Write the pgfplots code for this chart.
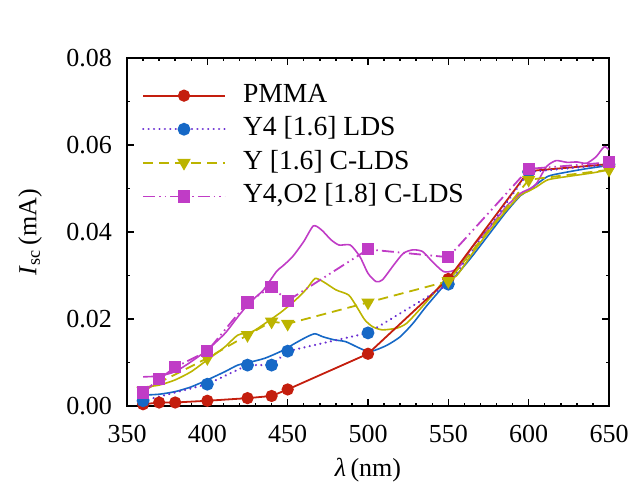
\documentclass[border=0pt]{standalone}
\usepackage{fontspec}
\setmainfont{Liberation Serif}
\usepackage{pgfplots}
\pgfplotsset{compat=1.18}

\definecolor{cRed}{HTML}{C41E0E}
\definecolor{cBlue}{HTML}{1668C6}
\definecolor{cPurple}{HTML}{6A2FD2}
\definecolor{cYellow}{HTML}{BCB400}
\definecolor{cMag}{HTML}{C03CC6}

\begin{document}
\begin{tikzpicture}
\begin{axis}[
  name=ax, at={(0,0)}, anchor=south west,
  scale only axis, width=241bp, height=174bp,
  xmin=350, xmax=650, ymin=0, ymax=0.08,
  xtick={350,400,450,500,550,600,650},
  ytick={0,0.02,0.04,0.06,0.08},
  minor x tick num=4, minor y tick num=1,
  major tick length=3.3bp, minor tick length=1.7bp,
  axis line style={line width=1bp},
  every tick/.style={black, line width=0.7bp},
  tick label style={font=\fontsize{13bp}{15bp}\selectfont},
  /pgf/number format/assume math mode=true,
  scaled y ticks=false,
  yticklabel style={/pgf/number format/fixed, /pgf/number format/fixed zerofill, /pgf/number format/precision=2, xshift=-4bp},
  xticklabel style={yshift=-6bp},
  label style={font=\fontsize{13bp}{15bp}\selectfont},
  xlabel={{\itshape λ}\,(nm)},
  ylabel={\textit{I}\textsubscript{sc}\,(mA)},
  xlabel style={at={(axis description cs:0.5,-0.184)}, anchor=center},
  ylabel style={at={(axis description cs:-0.201,0.5)}, anchor=center},
  legend cell align=left,
  legend style={draw=none, fill=none, at={(axis description cs:0.0303,0.926)}, anchor=north west,
    font=\fontsize{13.8bp}{16bp}\selectfont, row sep=5.3bp, column sep=8.5bp, inner sep=0pt,
    nodes={inner sep=0pt, text height=9bp, text depth=2.5bp}},
  legend image code/.code={\draw[mark repeat=2,mark phase=2,#1] plot coordinates {(0bp,0bp) (20.4bp,0bp) (40.8bp,0bp)};},
]
% spectrally resolved curves
\addplot[cBlue, line width=0.8bp, smooth, tension=0.4, forget plot] coordinates {
(360,0.0025) (370,0.0027) (380,0.0033) (390,0.0044) (400,0.0060) (411,0.0079)
(419,0.0094) (428,0.0102) (436,0.0110) (446,0.0126) (455,0.0145) (462,0.0159)
(467,0.0166) (472,0.0159) (479,0.0152) (486,0.0148) (493,0.0136) (500,0.0125)
(505,0.0129) (512,0.0140) (520,0.0159) (528,0.0190) (536,0.0228) (545,0.0267)
(549,0.0286) (555,0.0301) (565,0.0345) (576,0.0398) (586,0.0446) (595,0.0484)
(600,0.0495) (605,0.0510) (612,0.0528) (620,0.0535) (635,0.0545) (650,0.0553)};
\addplot[cYellow, line width=0.8bp, smooth, tension=0.4, forget plot] coordinates {
(360,0.0043) (370,0.0048) (380,0.0060) (390,0.0079) (400,0.0106) (411,0.0136)
(419,0.0163) (428,0.0171) (436,0.0190) (446,0.0216) (455,0.0244) (462,0.0270)
(467,0.0293) (472,0.0286) (480,0.0267) (488,0.0255) (493,0.0228) (498,0.0198)
(503,0.0182) (509,0.0175) (518,0.0179) (524,0.0190) (532,0.0221) (541,0.0259)
(547,0.0286) (555,0.0299) (565,0.0351) (576,0.0405) (586,0.0450) (595,0.0485)
(600,0.0494) (605,0.0504) (612,0.0520) (625,0.0528) (640,0.0536) (650,0.0543)};
\addplot[cMag, line width=0.8bp, smooth, tension=0.4, forget plot] coordinates {
(360,0.0067) (370,0.0069) (380,0.0079) (390,0.0102) (400,0.0129) (411,0.0167)
(419,0.0205) (425,0.0232) (430,0.0250) (435,0.0267) (443,0.0309) (447,0.0322)
(453,0.0343) (460,0.0378) (466,0.0414) (471,0.0405) (477,0.0382) (482,0.0370)
(489,0.0370) (495,0.0343) (500,0.0305) (505,0.0286) (509,0.0290) (516,0.0324)
(522,0.0351) (528,0.0359) (534,0.0355) (540,0.0332) (547,0.0309) (553,0.0311)
(558,0.0325) (565,0.0366) (576,0.0412) (586,0.0458) (595,0.0489) (601,0.0500)
(605,0.0512) (611,0.0550) (617,0.0564) (624,0.0560) (630,0.0561) (636,0.0558)
(642,0.0573) (647,0.0596) (650,0.0589)};
% measured points
\addplot[cRed, line width=0.9bp, mark=*, mark size=2.6bp, mark options={solid, fill=cRed, draw=cRed}] coordinates {
(360,0.0004) (370,0.0008) (380,0.0008) (400,0.0012) (425,0.0018) (440,0.0023)
(450,0.0038) (500,0.0120) (550,0.0292) (600,0.0540) (650,0.0556)};
\addlegendentry{PMMA}
\addplot[cPurple, line width=1.2bp, line cap=round, dash pattern=on 0.01bp off 2.7bp, mark=*, mark size=2.6bp, mark options={solid, fill=cBlue, draw=cBlue}] coordinates {
(360,0.0012) (400,0.0050) (425,0.0094) (440,0.0094) (450,0.0126) (500,0.0168)
(550,0.0280) (600,0.0538) (650,0.0555)};
\addlegendentry{Y4 [1.6] LDS}
\addplot[cYellow, line width=0.9bp, dash pattern=on 5bp off 3bp, mark=triangle*, mark size=3bp, mark options={solid, rotate=180, fill=cYellow, draw=cYellow}] coordinates {
(360,0.0035) (400,0.0110) (425,0.0163) (440,0.0194) (450,0.0189) (500,0.0238)
(550,0.0287) (600,0.0520) (650,0.0543)};
\addlegendentry{Y [1.6] C-LDS}
\addplot[cMag, line width=0.9bp, dash pattern=on 6bp off 2bp on 0.8bp off 2bp on 0.8bp off 2bp, mark=square*, mark size=2.6bp, mark options={solid, fill=cMag, draw=cMag}] coordinates {
(360,0.0031) (370,0.0062) (380,0.0089) (400,0.0126) (425,0.0238) (440,0.0274)
(450,0.0242) (500,0.0360) (550,0.0342) (600,0.0545) (650,0.0560)};
\addlegendentry{Y4,O2 [1.8] C-LDS}
\end{axis}
\pgfresetboundingbox
\path ([shift={(-63.5bp,-46.5bp)}]ax.south west) rectangle ([shift={(10bp,29bp)}]ax.north east);
\end{tikzpicture}
\end{document}
